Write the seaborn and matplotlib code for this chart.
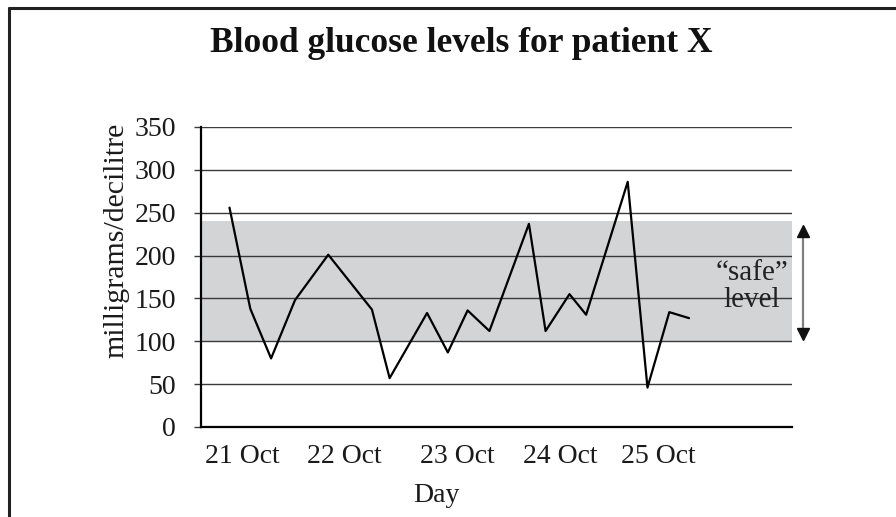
import numpy as np
import pandas as pd
import matplotlib
matplotlib.use("Agg")
import matplotlib.pyplot as plt
from matplotlib.lines import Line2D
import seaborn as sns

# Reading times (fractional day of October) and glucose values (mg/dl)
reading_day = [20.88, 21.08, 21.28, 21.51, 21.83, 22.25, 22.42, 22.78, 22.98,
               23.17, 23.38, 23.76, 23.92, 24.15, 24.31, 24.71, 24.90, 25.11, 25.30]
glucose = [256, 138, 80, 148, 201, 137, 57, 133, 87,
           136, 112, 237, 112, 155, 131, 286, 46, 134, 127]
day_labels = ["21 Oct", "22 Oct", "23 Oct", "24 Oct", "25 Oct"]
day_ticks = [21.0, 21.98, 23.07, 24.06, 25.0]
safe_low, safe_high = 100, 240
y_ticks = [0, 50, 100, 150, 200, 250, 300, 350]

df = pd.DataFrame({"day": reading_day, "glucose": glucose})

sns.set_style("white")
plt.rcParams["font.family"] = ["Liberation Serif", "DejaVu Serif"]

W, H = 896, 517
fig = plt.figure(figsize=(W / 100, H / 100), dpi=100)
ax = fig.add_axes([201 / W, 1 - 427 / H, (792 - 201) / W, (427 - 127) / H])

ax.axhspan(safe_low, safe_high, color="#d3d4d6", zorder=0, lw=0)
for yv in y_ticks[1:]:
    ax.axhline(yv, color="#3a3a3a", lw=1.0, zorder=1)

sns.lineplot(data=df, x="day", y="glucose", ax=ax, color="black", lw=1.6,
             zorder=3, sort=False)

ax.set_xlim(20.606, 26.29)
ax.set_ylim(0, 350)
ax.set_yticks(y_ticks)
ax.set_yticklabels([str(v) for v in y_ticks], fontsize=20, color="#1a1a1a")
ax.set_xticks(day_ticks)
ax.set_xticklabels(day_labels, fontsize=20, color="#1a1a1a")
ax.tick_params(axis="y", length=5, width=1, color="#3a3a3a", pad=13, direction="out", left=True)
ax.tick_params(axis="x", length=0, pad=12)
ax.set_xlabel("Day", fontsize=20, color="#1a1a1a", va="center")
ax.xaxis.set_label_coords((436 - 201) / 591, (427 - 495) / 300)
ax.set_ylabel("milligrams/decilitre", fontsize=21.5, color="#1a1a1a", va="center")
ax.yaxis.set_label_coords((116 - 201) / 591, (427 - 240) / 300)

for s in ["top", "right"]:
    ax.spines[s].set_visible(False)
for s in ["left", "bottom"]:
    ax.spines[s].set_color("black")
    ax.spines[s].set_linewidth(1.6)

ax.text((752 - 201) / 591, 164, "\u201csafe\u201d\nlevel",
        transform=ax.get_yaxis_transform(), ha="center", va="center",
        fontsize=21, color="#222222", linespacing=1.05)

# double-headed arrow beside the band: grey shaft, black heads
ax_x = (803 - 201) / 591
ytr = ax.get_yaxis_transform()
ax.annotate("", xy=(ax_x, safe_high - 8), xytext=(ax_x, safe_low + 6),
            xycoords=ytr, textcoords=ytr,
            arrowprops=dict(arrowstyle="-", color="#808080", lw=1.6,
                            shrinkA=0, shrinkB=0),
            annotation_clip=False)
ax.plot([ax_x], [safe_high - 11], marker="^", color="#111111", ms=9,
        transform=ytr, clip_on=False, zorder=5)
ax.plot([ax_x], [safe_low + 9], marker="v", color="#111111", ms=9,
        transform=ytr, clip_on=False, zorder=5)

fig.suptitle("Blood glucose levels for patient X", x=461 / W, y=1 - 43 / H,
             va="center", fontsize=25.5, fontweight="bold", color="#111111")

# figure frame (top and left)
fig.add_artist(Line2D([9 / W, 1.0], [1 - 8 / H, 1 - 8 / H], transform=fig.transFigure,
                      color="#222222", lw=2.2))
fig.add_artist(Line2D([9 / W, 9 / W], [0, 1 - 8 / H], transform=fig.transFigure,
                      color="#222222", lw=2.2))

fig.savefig("out.png", dpi=100)
